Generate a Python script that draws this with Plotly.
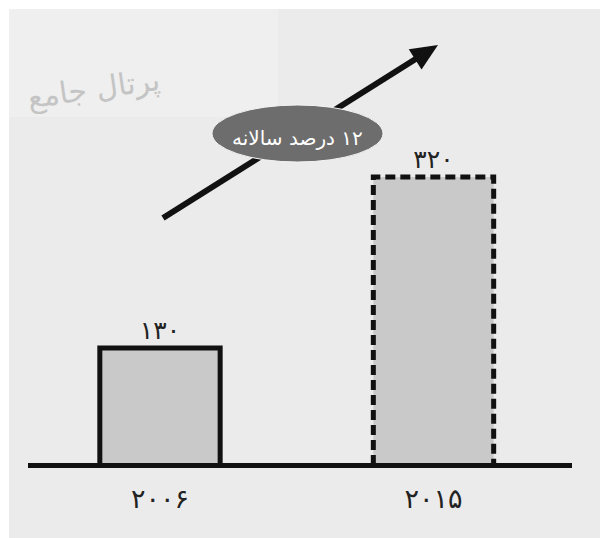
import plotly.graph_objects as go

# chart data
years = ["۲۰۰۶", "۲۰۱۵"]
values = [130, 320]
value_labels = ["۱۳۰", "۳۲۰"]
outline_dash = ["solid", "10px,5px"]
growth_label = "\u200f۱۲ درصد سالانه"
watermark = "پرتال جامع"

W, H = 600, 538
FONT = "DejaVu Sans"
BAR_W = 0.44


def px(x):
    return x / W


def py(y):
    return 1 - y / H


x_pos = list(range(len(years)))

fig = go.Figure()

fig.add_trace(go.Bar(
    x=x_pos, y=values, width=BAR_W,
    marker=dict(color="#c9c9c9", line=dict(width=0)),
    text=value_labels, textposition="outside", cliponaxis=False,
    textfont=dict(family=FONT, size=25, color="#222222"),
    hoverinfo="skip",
))

# bar outlines (open at the bottom, baseline closes them)
for i, v in enumerate(values):
    x0, x1 = x_pos[i] - BAR_W / 2, x_pos[i] + BAR_W / 2
    fig.add_trace(go.Scatter(
        x=[x0, x0, x1, x1], y=[0, v, v, 0], mode="lines",
        line=dict(color="#111111", width=5, dash=outline_dash[i]),
        hoverinfo="skip", cliponaxis=False,
    ))

# arrow geometry in pixels
tail = (163, 218)
tip = (438, 45)
dx, dy = tip[0] - tail[0], tip[1] - tail[1]
ln = (dx * dx + dy * dy) ** 0.5
ux, uy = dx / ln, dy / ln
head_len, head_half = 27, 12
bx, by = tip[0] - head_len * ux, tip[1] - head_len * uy
c1 = (bx - head_half * uy, by + head_half * ux)
c2 = (bx + head_half * uy, by - head_half * ux)
head_path = "M {},{} L {},{} L {},{} Z".format(
    px(tip[0]), py(tip[1]), px(c1[0]), py(c1[1]), px(c2[0]), py(c2[1]))

shapes = [
    dict(type="rect", xref="paper", yref="paper", x0=0, x1=1, y0=py(9), y1=1,
         fillcolor="white", line_width=0, layer="below"),
    dict(type="rect", xref="paper", yref="paper", x0=0, x1=px(9), y0=0, y1=1,
         fillcolor="white", line_width=0, layer="below"),
    dict(type="rect", xref="paper", yref="paper", x0=px(9), x1=px(278), y0=py(117), y1=py(9),
         fillcolor="#efefef", line_width=0, layer="below"),
    dict(type="line", xref="paper", yref="paper",
         x0=px(tail[0]), y0=py(tail[1]), x1=px(bx + 2 * ux), y1=py(by + 2 * uy),
         line=dict(color="#111111", width=6)),
    dict(type="path", xref="paper", yref="paper", path=head_path,
         fillcolor="#111111", line_width=0),
    dict(type="circle", xref="paper", yref="paper",
         x0=px(212), x1=px(383), y0=py(162), y1=py(105),
         fillcolor="#6d6d6d", line=dict(color="#f4f4f4", width=1)),
]

annotations = [
    dict(x=px(297.5), y=py(133), xref="paper", yref="paper", text=growth_label,
         showarrow=False, yshift=9, font=dict(family=FONT, size=20, color="white")),
    dict(x=px(164), y=py(60), xref="paper", yref="paper", text=watermark,
         showarrow=False, xanchor="right", textangle=-8,
         font=dict(family=FONT, size=30, color="#c4c4c4")),
]

fig.update_layout(
    width=W, height=H,
    margin=dict(l=0, r=0, t=0, b=0),
    paper_bgcolor="#ebebeb", plot_bgcolor="rgba(0,0,0,0)",
    showlegend=False,
    shapes=shapes, annotations=annotations,
    xaxis=dict(
        domain=[px(28), px(572)],
        range=[-0.4826, 1.5064],
        tickvals=x_pos, ticktext=years,
        tickfont=dict(family=FONT, size=27, color="#222222"),
        showgrid=False, zeroline=False,
        showline=True, linecolor="#111111", linewidth=5,
        anchor="free", position=(H - 465) / H,
        ticks="", ticklabelstandoff=8,
    ),
    yaxis=dict(range=[-(H - 465) / 0.9, 465 / 0.9], visible=False),
)

fig.write_html("out.html", config={"displayModeBar": False},
               post_script="document.body.style.margin='0';")
